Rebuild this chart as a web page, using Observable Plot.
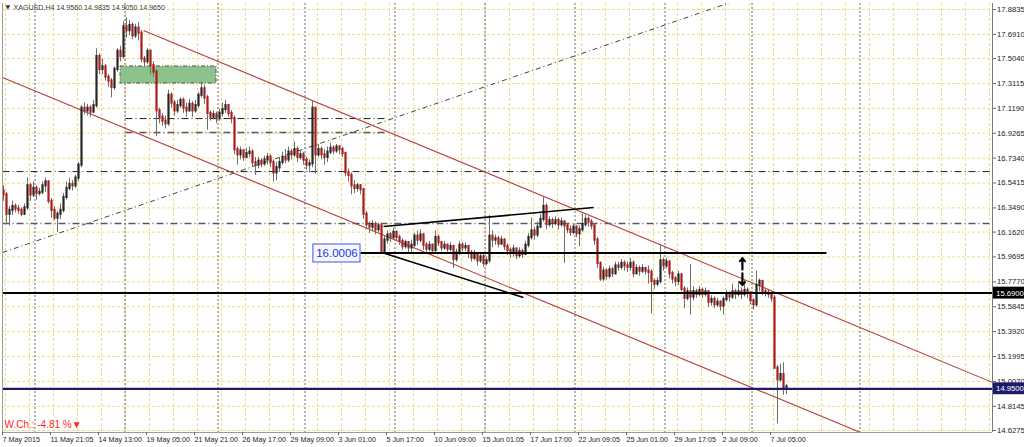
<!DOCTYPE html>
<html><head><meta charset="utf-8">
<script src="https://cdn.jsdelivr.net/npm/d3@7"></script>
<script src="https://cdn.jsdelivr.net/npm/@observablehq/plot@0.6"></script>
<style>
html,body{margin:0;padding:0;background:#fff;}
#chart svg{display:block;}
</style></head><body><div id="chart"></div>
<script>
// ---- Candles (XAGUSD H4), bar index i = 0..261 ----
const firstOpen = 16.48;
const closes = [
16.45,16.30,16.33,16.36,16.34,16.33,16.30,16.35,16.52,16.45,
16.50,16.46,16.47,16.52,16.55,16.40,16.33,16.27,16.30,16.33,
16.43,16.50,16.53,16.52,16.58,16.68,17.12,17.10,17.12,17.09,
17.14,17.52,17.42,17.44,17.36,17.33,17.28,17.42,17.56,17.52,
17.75,17.72,17.76,17.68,17.74,17.70,17.50,17.48,17.56,17.45,
17.40,17.10,17.05,17.02,17.00,17.22,17.16,17.10,17.14,17.18,
17.12,17.10,17.15,17.10,17.14,17.22,17.27,17.20,17.08,17.05,
17.07,17.04,17.08,17.11,17.14,17.08,17.04,16.80,16.76,16.79,
16.74,16.77,16.78,16.70,16.68,16.71,16.69,16.72,16.74,16.70,
16.62,16.66,16.70,16.74,16.72,16.78,16.76,16.80,16.74,16.76,
16.72,16.68,16.69,17.12,16.76,16.80,16.76,16.74,16.78,16.81,
16.79,16.82,16.80,16.77,16.62,16.60,16.52,16.50,16.52,16.49,
16.30,16.22,16.20,16.22,16.18,16.21,16.01,16.10,16.14,16.12,
16.16,16.12,16.09,16.05,16.08,16.04,16.06,16.13,16.10,16.14,
16.06,16.03,16.06,16.02,16.12,16.08,16.04,16.06,16.03,16.05,
15.95,16.00,16.06,16.04,16.05,16.00,15.96,15.98,15.94,15.97,
15.92,15.94,16.13,16.10,16.11,16.07,16.10,16.05,16.02,16.00,
16.03,15.98,16.01,15.99,16.06,16.12,16.17,16.14,16.20,16.26,
16.36,16.22,16.25,16.23,16.25,16.22,16.24,16.21,16.18,16.16,
16.20,16.15,16.18,16.22,16.26,16.24,16.21,16.10,15.92,15.80,
15.86,15.82,15.87,15.84,15.90,15.89,15.92,15.90,15.89,15.92,
15.84,15.88,15.86,15.88,15.86,15.85,15.78,15.76,15.78,15.94,
15.90,15.93,15.84,15.80,15.78,15.83,15.72,15.65,15.70,15.66,
15.70,15.68,15.71,15.68,15.70,15.62,15.64,15.60,15.62,15.59,
15.64,15.68,15.66,15.70,15.68,15.70,15.68,15.71,15.69,15.63,
15.60,15.75,15.78,15.70,15.69,15.68,15.65,15.11,15.02,15.06,
14.956,14.965];
const highs = [
16.52,16.47,16.36,16.40,16.38,16.37,16.35,16.38,16.58,16.54,
16.55,16.52,16.50,16.55,16.58,16.56,16.42,16.36,16.32,16.38,
16.46,16.55,16.58,16.56,16.60,16.70,17.14,17.16,17.15,17.14,
17.18,17.58,17.54,17.50,17.46,17.38,17.35,17.44,17.58,17.60,
17.79,17.82,17.80,17.78,17.77,17.78,17.72,17.52,17.58,17.57,
17.48,17.42,17.12,17.08,17.06,17.26,17.24,17.18,17.18,17.20,
17.20,17.16,17.19,17.17,17.18,17.24,17.32,17.30,17.22,17.10,
17.10,17.09,17.11,17.16,17.18,17.15,17.10,17.06,16.82,16.82,
16.80,16.81,16.82,16.80,16.74,16.74,16.73,16.75,16.77,16.76,
16.72,16.70,16.74,16.78,16.80,16.82,16.80,16.86,16.82,16.79,
16.78,16.74,16.72,17.18,17.12,16.84,16.82,16.80,16.82,16.85,
16.83,16.84,16.83,16.82,16.78,16.65,16.62,16.56,16.54,16.53,
16.50,16.32,16.24,16.25,16.24,16.23,16.22,16.13,16.17,16.16,
16.19,16.17,16.14,16.11,16.10,16.09,16.10,16.15,16.17,16.18,
16.15,16.08,16.09,16.07,16.17,16.14,16.09,16.09,16.07,16.08,
16.06,16.03,16.09,16.08,16.08,16.06,16.02,16.02,16.00,16.00,
15.99,15.97,16.29,16.17,16.14,16.13,16.13,16.11,16.07,16.04,
16.06,16.04,16.04,16.03,16.09,16.15,16.27,16.20,16.24,16.30,
16.43,16.38,16.28,16.27,16.28,16.27,16.27,16.25,16.23,16.21,
16.22,16.21,16.21,16.30,16.29,16.28,16.26,16.23,16.12,15.93,
15.89,15.88,15.90,15.89,15.93,15.93,15.95,15.94,15.93,15.96,
15.94,15.91,15.90,15.91,15.89,15.90,15.87,15.80,15.81,16.06,
15.96,15.96,15.94,15.86,15.82,15.86,15.84,15.74,15.73,15.91,
15.74,15.72,15.74,15.73,15.73,15.70,15.67,15.66,15.65,15.63,
15.66,15.71,15.70,15.76,15.72,15.78,15.73,15.79,15.73,15.70,
15.65,15.86,15.80,15.79,15.72,15.71,15.70,15.67,15.13,15.14,
15.15,14.9835];
const lows = [
16.40,16.22,16.21,16.29,16.31,16.30,16.28,16.29,16.33,16.40,
16.43,16.41,16.44,16.45,16.47,16.38,16.27,16.25,16.16,16.26,
16.31,16.41,16.48,16.48,16.50,16.55,16.66,17.07,17.06,17.05,
17.08,17.12,17.38,17.38,17.33,17.28,17.20,17.26,17.40,17.48,
17.50,17.66,17.68,17.65,17.66,17.64,17.47,17.44,17.46,17.38,
17.36,16.90,17.00,16.98,16.96,16.98,17.12,17.06,17.08,17.12,
17.08,17.05,17.09,17.05,17.08,17.12,17.20,17.15,16.95,17.02,
17.03,17.00,17.02,17.05,17.08,17.05,17.00,16.76,16.68,16.72,
16.71,16.73,16.74,16.66,16.60,16.65,16.66,16.67,16.68,16.66,
16.55,16.56,16.63,16.68,16.69,16.70,16.72,16.74,16.70,16.72,
16.68,16.64,16.62,16.66,16.61,16.74,16.72,16.68,16.70,16.76,
16.76,16.77,16.76,16.74,16.59,16.55,16.45,16.46,16.47,16.45,
16.26,16.18,16.15,16.17,16.14,16.16,16.00,16.00,16.07,16.08,
16.10,16.09,16.06,16.02,16.03,16.00,16.00,16.04,16.06,16.08,
16.02,16.00,16.01,15.99,16.00,16.05,16.01,16.02,16.00,16.01,
15.88,15.93,15.98,16.01,16.01,15.96,15.93,15.94,15.90,15.92,
15.89,15.90,15.92,16.04,16.06,16.04,16.06,16.02,15.98,15.96,
15.97,15.95,15.96,15.96,15.98,16.04,16.10,16.10,16.12,16.19,
16.24,16.18,16.20,16.19,16.21,16.18,16.20,15.92,16.15,16.13,
16.14,16.12,16.05,16.16,16.20,16.20,16.18,16.06,15.88,15.78,
15.78,15.79,15.80,15.81,15.83,15.86,15.87,15.86,15.85,15.86,
15.81,15.83,15.82,15.84,15.83,15.76,15.53,15.72,15.74,15.76,
15.86,15.88,15.80,15.76,15.74,15.75,15.70,15.57,15.63,15.52,
15.63,15.65,15.66,15.65,15.66,15.58,15.59,15.57,15.58,15.55,
15.52,15.62,15.62,15.64,15.64,15.66,15.64,15.66,15.65,15.60,
15.56,15.58,15.70,15.67,15.66,15.65,15.62,15.10,14.68,15.00,
14.90,14.905];

// ---- Axes ----
const priceTicks = [17.8835,17.6910,17.5040,17.3115,17.1190,16.9265,16.7340,16.5415,16.3490,
  16.1620,15.9695,15.7770,15.5845,15.3920,15.1995,15.0070,14.8145,14.6275];
const timeLabelBars = [0,16,32,48,64,80,96,112,128,144,160,176,192,208,224,240,256];
const timeLabels = ["7 May 2015","11 May 21:05","14 May 13:00","19 May 05:00","21 May 21:00",
  "26 May 17:00","29 May 09:00","3 Jun 01:00","5 Jun 17:00","10 Jun 09:00","15 Jun 01:05",
  "17 Jun 17:00","22 Jun 09:05","25 Jun 01:00","29 Jun 17:05","2 Jul 09:00","7 Jul 05:00"];
const weekStarts = [10.5,40.5,71.5,100.5,130.5,160.5,190.5,220.5,249.5,285.5];

// ---- Drawn objects (bar index, price) ----
const xDomain = [-1/3, 329 + 2/3];
const yDomain = [14.612, 17.930];
const channelLines = [
  {x1: 46.67, y1: 17.721, x2: 329.67, y2: 14.999},
  {x1: -0.33, y1: 17.357, x2: 285.7, y2: 14.612}
];
const trendDashed = [{x1: -0.33, y1: 16.004, x2: 242.3, y2: 17.938}];
const dashLevels = [
  {x1: -0.33, x2: 329.67, p: 16.630, c: "#1e1e1e", w: 1},
  {x1: -0.33, x2: 329.67, p: 16.228, c: "#5a5a5a", w: 1.5},
  {x1: 40.67, x2: 127.3, p: 17.040, c: "#1e1e1e", w: 1},
  {x1: 40.67, x2: 127.3, p: 16.932, c: "#5a5a5a", w: 1.5}
];
const zones = [{x1: 39, x2: 71, y1: 17.311, y2: 17.443}];
const triangleLines = [
  {x1: 126.7, y1: 16.205, x2: 196.7, y2: 16.352},
  {x1: 126.7, y1: 16.000, x2: 173.3, y2: 15.656}
];
const levelLine = [{x1: 119, x2: 274.3, p: 16.0006}];
const supportLevel = [15.69];
const currentLevel = [14.95];
const arrows = [
  {x: 246.3, y1: 15.872, y2: 15.960},
  {x: 246.3, y1: 15.842, y2: 15.752}
];
const levelLabel = [{x1: 103.3, x2: 119, y1: 15.927, y2: 16.066, text: "16.0006"}];
const axisBoxes = [
  {p: 15.69, text: "15.6900", bg: "#000000"},
  {p: 14.95, text: "14.9500", bg: "#1b1b6b"}
];
const titleText = ["XAGUSD,H4 14.9560 14.9835 14.9050 14.9650"];
const changeText = ["W.Ch.: -4.81 %\u25BC"];

const bars = closes.map((c, i) => ({
  i, close: c, open: i ? closes[i - 1] : firstOpen, high: highs[i], low: lows[i]
}));

const font = "Liberation Sans, Arial, sans-serif";
const fs = 7.7;
const labelMap = new Map(timeLabelBars.map((b, k) => [b, timeLabels[k]]));

const chart = Plot.plot({
  width: 1024, height: 447,
  marginLeft: 2, marginRight: 32, marginTop: 3, marginBottom: 15,
  style: {fontFamily: font, background: "#fff", overflow: "visible"},
  x: {type: "linear", domain: xDomain},
  y: {type: "linear", domain: yDomain},
  marks: [
    // grid
    Plot.ruleY(priceTicks, {stroke: "#eedd88", strokeDasharray: "3,2"}),
    Plot.ruleX(d3.range(2/3, 330, 8), {stroke: "#eedd88", strokeDasharray: "3,2"}),
    Plot.ruleX(weekStarts, {stroke: "#6a6a6a", strokeDasharray: "2,2"}),
    // zone
    Plot.rect(zones, {x1: "x1", x2: "x2", y1: "y1", y2: "y2", fill: "#86bf86", fillOpacity: 0.95,
      stroke: "#555", strokeDasharray: "4,2,1,2"}),
    // dash-dot levels
    Plot.link(dashLevels, {x1: "x1", x2: "x2", y1: "p", y2: "p", stroke: d => d.c,
      strokeWidth: d => d.w, strokeDasharray: "7,3,1,3", clip: true}),
    Plot.link(trendDashed, {x1: "x1", y1: "y1", x2: "x2", y2: "y2", stroke: "#444",
      strokeDasharray: "5,3,1,3", clip: true}),
    // channel
    Plot.link(channelLines, {x1: "x1", y1: "y1", x2: "x2", y2: "y2", stroke: "#b5403c",
      strokeWidth: 1.1, clip: true}),
    // candles
    Plot.ruleX(bars, {x: "i", y1: "low", y2: "high", stroke: "#6e6e6e", strokeWidth: 1}),
    Plot.ruleX(bars, {x: "i", y1: "open", y2: "close",
      stroke: d => d.close >= d.open ? "#262626" : "#a81c1c",
      strokeWidth: 2.2, strokeLinecap: "square"}),
    // black structure lines
    Plot.ruleY(supportLevel, {stroke: "#000", strokeWidth: 2}),
    Plot.link(levelLine, {x1: "x1", x2: "x2", y1: "p", y2: "p", stroke: "#000", strokeWidth: 2}),
    Plot.link(triangleLines, {x1: "x1", y1: "y1", x2: "x2", y2: "y2", stroke: "#000", strokeWidth: 1.6}),
    Plot.ruleY(currentLevel, {stroke: "#1b1b6b", strokeWidth: 2.2}),
    // arrows
    Plot.arrow(arrows, {x: "x", y1: "y1", y2: "y2", stroke: "#000", strokeWidth: 2.2,
      headLength: 5, headAngle: 80}),
    // 16.0006 label
    Plot.rect(levelLabel, {x1: "x1", x2: "x2", y1: "y1", y2: "y2", fill: "#f7f8ff", stroke: "#3d55f0"}),
    Plot.text(levelLabel, {x: d => (d.x1 + d.x2) / 2, y: d => (d.y1 + d.y2) / 2, text: "text",
      fill: "#1d34e0", fontSize: 11.5, fontFamily: font}),
    // frame edges
    Plot.ruleX([xDomain[0]], {stroke: "#9a9a9a"}),
    Plot.ruleX([xDomain[1]], {stroke: "#7a7a7a"}),
    Plot.ruleY([yDomain[0]], {stroke: "#9a9a9a"}),
    // axes
    Plot.axisY(priceTicks, {anchor: "right", tickFormat: d3.format(".4f"), tickSize: 3,
      tickPadding: 1.5, fontSize: fs, fill: "#222", stroke: "#666"}),
    Plot.axisX(timeLabelBars, {anchor: "bottom", tickFormat: d => labelMap.get(d), tickSize: 3,
      tickPadding: 1, textAnchor: "start", dx: -1, fontSize: 7.2, fill: "#222", stroke: "#666"}),
    // axis price boxes
    Plot.rect(axisBoxes, {x1: xDomain[1] + 0.33, x2: xDomain[1] + 11, y1: d => d.p - 0.046,
      y2: d => d.p + 0.046, fill: "bg"}),
    Plot.text(axisBoxes, {x: xDomain[1] + 1.2, y: "p", text: "text", fill: "#fff",
      textAnchor: "start", fontSize: fs, fontFamily: font}),
    // title and weekly change
    Plot.text(["\u25BC"], {frameAnchor: "top-left", dx: 3, dy: 4, lineAnchor: "middle",
      textAnchor: "start", fontSize: 6, fill: "#333", fontFamily: "DejaVu Sans"}),
    Plot.text(titleText, {frameAnchor: "top-left", dx: 11, dy: 4, lineAnchor: "middle",
      textAnchor: "start", fontSize: 7.1, fill: "#3a3a3a", fontFamily: font}),
    Plot.text(changeText, {frameAnchor: "bottom-left", dx: 2, dy: -8, lineAnchor: "middle",
      textAnchor: "start", fontSize: 10, fill: "#ff2a2a", fontFamily: font})
  ]
});
document.getElementById("chart").appendChild(chart);
</script>
</body></html>
